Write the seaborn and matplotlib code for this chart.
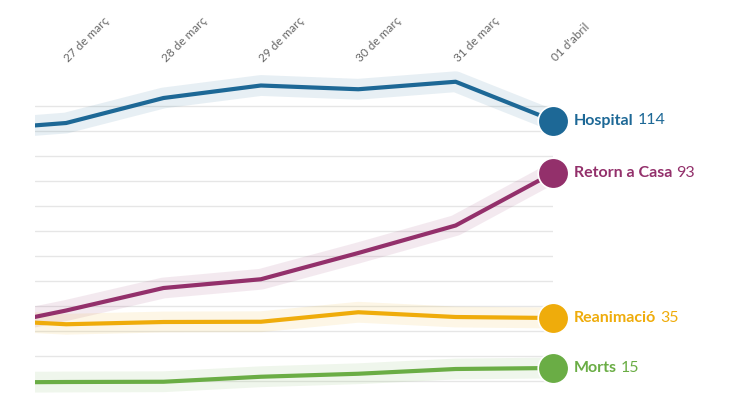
import matplotlib
matplotlib.use("Agg")
import matplotlib.pyplot as plt
import matplotlib.dates as mdates
import matplotlib.transforms as mtransforms
import seaborn as sns
import pandas as pd
import numpy as np

# ---- data ----
dates = ["2020-03-26", "2020-03-27", "2020-03-28", "2020-03-29",
         "2020-03-30", "2020-03-31", "2020-04-01"]
hospital = [110, 113, 123, 128, 126.5, 129.5, 114]
retorn = [30, 38, 47, 50.5, 61, 72, 93]
reanimacio = [34.5, 32.5, 33.4, 33.5, 37.3, 35.4, 35]
morts = [9.2, 9.4, 9.5, 11.5, 12.7, 14.6, 15]
series_names = ["Hospital", "Retorn a Casa", "Reanimació", "Morts"]
series_colors = ["#1d6896", "#93306b", "#efac0b", "#6aad45"]
tick_dates = ["2020-03-27", "2020-03-28", "2020-03-29",
              "2020-03-30", "2020-03-31", "2020-04-01"]
tick_labels = ["27 de març", "28 de març", "29 de març",
               "30 de març", "31 de març", "01 d'abril"]
grid_values = [10, 20, 30, 40, 50, 60, 70, 80, 90, 100, 110, 120]

df = pd.DataFrame({
    "date": pd.to_datetime(dates * 4),
    "value": hospital + retorn + reanimacio + morts,
    "serie": sum([[n] * len(dates) for n in series_names], []),
})
palette = dict(zip(series_names, series_colors))

sns.set_theme(style="white")
plt.rcParams["font.family"] = ["Lato", "DejaVu Sans"]

fig = plt.figure(figsize=(7.34, 4.13), dpi=100)
ax = fig.add_axes([35 / 734, (413 - 405.5) / 413, (553 - 35) / 734, (405.5 - 68) / 413])

# halo
sns.lineplot(data=df, x="date", y="value", hue="serie", palette=palette,
             linewidth=15, alpha=0.1, legend=False, ax=ax, zorder=2,
             solid_capstyle="butt")
# main lines
sns.lineplot(data=df, x="date", y="value", hue="serie", palette=palette,
             linewidth=3, legend=False, ax=ax, zorder=3)

x0 = mdates.date2num(pd.Timestamp("2020-03-27")) - 0.32
x1 = mdates.date2num(pd.Timestamp("2020-04-01"))
ax.set_xlim(x0, x1)
ax.set_ylim(0, 135)

ax.set_yticks(grid_values)
ax.set_yticklabels([])
ax.grid(axis="y", color="#e6e6e6", linewidth=1)
ax.grid(axis="x", visible=False)
for s in ax.spines.values():
    s.set_visible(False)
ax.set_xlabel("")
ax.set_ylabel("")

ax.set_xticks(mdates.date2num(pd.to_datetime(tick_dates)))
ax.set_xticklabels(tick_labels)
ax.tick_params(axis="x", top=True, labeltop=True, bottom=False, labelbottom=False,
               length=0, pad=3, labelsize=8.5, labelcolor="#666666")
ax.tick_params(axis="y", length=0)
shift = mtransforms.ScaledTranslation(3 / 72, 0, fig.dpi_scale_trans)
for lab in ax.get_xticklabels():
    lab.set_rotation(45)
    lab.set_rotation_mode("anchor")
    lab.set_ha("left")
    lab.set_va("bottom")
    lab.set_transform(lab.get_transform() + shift)

# end markers and labels
last_date = pd.Timestamp(dates[-1])
fig.canvas.draw()
renderer = fig.canvas.get_renderer()
for name, color, vals in zip(series_names, series_colors,
                             [hospital, retorn, reanimacio, morts]):
    v = vals[-1]
    ax.plot([last_date], [v], marker="o", markersize=22, color=color,
            markeredgecolor="white", markeredgewidth=1.2, clip_on=False, zorder=5)
    t1 = ax.annotate(name, xy=(last_date, v), xytext=(15, 0),
                     textcoords="offset points", ha="left", va="center",
                     fontsize=11.5, fontweight="bold", color=color,
                     annotation_clip=False)
    bb = t1.get_window_extent(renderer)
    wpts = bb.width * 72 / fig.dpi
    ax.annotate(f"{v:g}", xy=(last_date, v), xytext=(15 + wpts + 3, 0),
                textcoords="offset points", ha="left", va="center",
                fontsize=11.5, color=color, annotation_clip=False)

fig.savefig("out.png", dpi=100)
